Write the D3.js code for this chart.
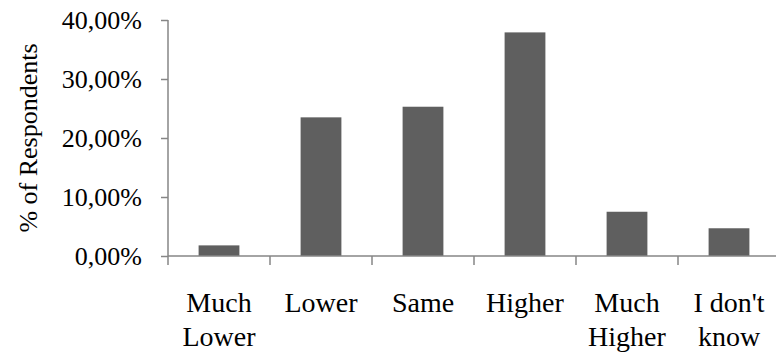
<!DOCTYPE html>
<html>
<head>
<meta charset="utf-8">
<script src="https://cdn.jsdelivr.net/npm/d3@7"></script>
<style>
  html, body { margin: 0; padding: 0; background: #fff; }
  svg { display: block; }
  text { font-family: "Liberation Serif", "Times New Roman", serif; fill: #000; }
</style>
</head>
<body>
<svg id="chart" width="776" height="357"></svg>
<script>
// Survey answers and share of respondents (%)
const categories = [["Much", "Lower"], ["Lower"], ["Same"], ["Higher"], ["Much", "Higher"], ["I don't", "know"]];
const shares = [1.8, 23.5, 25.3, 37.9, 7.5, 4.7];
const yTicks = [0, 10, 20, 30, 40];
const yLabel = "% of Respondents";

const svg = d3.select("#chart");
const plotLeft = 168, plotRight = 780, plotTop = 20, plotBottom = 256;
const axisColor = "#868686";

const x = d3.scaleBand()
  .domain(d3.range(categories.length))
  .range([plotLeft, plotRight])
  .paddingInner(0.6)
  .paddingOuter(0.3);

const y = d3.scaleLinear().domain([0, 40]).range([plotBottom, plotTop]);

const fmt = v => d3.format(".2f")(v).replace(".", ",") + "%";

// bars
svg.append("g")
  .selectAll("rect")
  .data(shares)
  .join("rect")
  .attr("x", (d, i) => x(i))
  .attr("y", d => y(d))
  .attr("width", x.bandwidth())
  .attr("height", d => y(0) - y(d))
  .attr("fill", "#5f5f5f");

// y axis
const yAxis = svg.append("g")
  .attr("transform", `translate(${plotLeft},0)`)
  .attr("font-family", null)
  .attr("font-size", null)
  .call(d3.axisLeft(y).tickValues(yTicks).tickFormat(fmt).tickSize(7).tickPadding(19));
yAxis.select(".domain").attr("stroke", axisColor).attr("stroke-width", 1.5)
  .attr("d", `M0,${plotTop}V${plotBottom}`);
yAxis.selectAll(".tick line").attr("stroke", axisColor).attr("stroke-width", 1.5);
yAxis.selectAll(".tick text")
  .style("font-family", "'Liberation Serif', serif")
  .style("font-size", "26px")
  .attr("fill", "#000")
  .attr("dy", "0.33em");

// x axis with boundary ticks between categories
const xAxisG = svg.append("g");
xAxisG.append("line")
  .attr("x1", plotLeft).attr("x2", plotRight)
  .attr("y1", plotBottom).attr("y2", plotBottom)
  .attr("stroke", axisColor).attr("stroke-width", 1.5);
const step = x.step();
xAxisG.selectAll("line.tick")
  .data(d3.range(categories.length + 1))
  .join("line")
  .attr("class", "tick")
  .attr("x1", i => plotLeft + i * step).attr("x2", i => plotLeft + i * step)
  .attr("y1", plotBottom).attr("y2", plotBottom + 9)
  .attr("stroke", axisColor).attr("stroke-width", 1.5);

// category labels (wrapped onto two lines where needed)
const lbl = svg.append("g").selectAll("text")
  .data(categories)
  .join("text")
  .attr("x", (d, i) => x(i) + x.bandwidth() / 2)
  .attr("y", 312)
  .attr("text-anchor", "middle")
  .style("font-size", "28px");
lbl.selectAll("tspan")
  .data(d => d)
  .join("tspan")
  .attr("x", function () { return d3.select(this.parentNode).attr("x"); })
  .attr("dy", (d, i) => i === 0 ? 0 : 34)
  .text(d => d);

// y axis title
svg.append("text")
  .attr("transform", `translate(37,${(plotTop + plotBottom) / 2}) rotate(-90)`)
  .attr("text-anchor", "middle")
  .style("font-size", "26px")
  .text(yLabel);
</script>
</body>
</html>
